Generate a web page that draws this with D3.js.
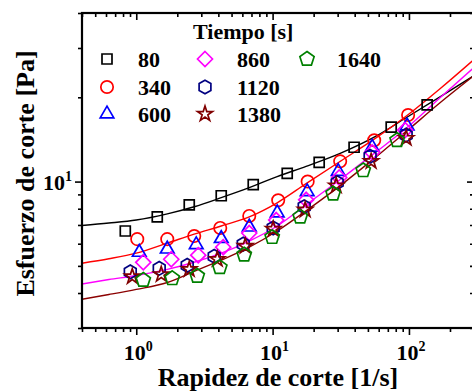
<!DOCTYPE html>
<html>
<head>
<meta charset="utf-8">
<script src="https://cdn.jsdelivr.net/npm/d3@7"></script>
<style>
  html, body { margin: 0; padding: 0; background: #fff; }
  svg { display: block; font-family: "Liberation Serif", "Times New Roman", serif; font-weight: bold; }
</style>
</head>
<body>
<svg id="chart" width="472" height="392"></svg>
<script>
// Shear stress vs. shear rate at several resting times
const seriesLabels = ["80", "340", "600", "860", "1120", "1380", "1640"];

const rate80 = [0.831, 1.426, 2.447, 4.20, 7.21, 12.8, 21.96, 39.6, 74.1, 136];
const stress80 = [6.66, 7.48, 8.26, 8.90, 9.75, 10.69, 11.71, 13.26, 15.65, 18.79];

const rate340 = [1.017, 1.688, 2.662, 4.13, 6.74, 10.99, 18.08, 31.3, 55.6, 98.6];
const stress340 = [6.23, 6.23, 6.39, 6.83, 7.54, 8.58, 10.0, 11.81, 14.05, 17.29];

const rate600 = [1.052, 1.688, 2.754, 4.20, 6.74, 10.81, 17.93, 30.27, 53.74, 97.0];
const stress600 = [5.59, 5.74, 5.95, 6.26, 6.88, 7.73, 9.20, 10.87, 13.26, 15.79];

const rate860 = [1.126, 1.806, 2.848, 4.34, 6.74, 10.63, 17.63, 30.8, 53.74, 93.8];
const stress860 = [5.15, 5.28, 5.46, 5.83, 6.55, 7.29, 8.61, 10.34, 12.72, 15.27];

const rate1120 = [0.904, 1.474, 2.365, 3.73, 6.09, 10.10, 17.05, 29.76, 51.9, 95.4];
const stress1120 = [4.76, 4.90, 5.02, 5.41, 5.98, 6.83, 8.13, 9.92, 12.31, 14.65];

const rate1380 = [0.935, 1.525, 2.447, 3.93, 6.30, 10.10, 17.34, 29.3, 52.8, 95.4];
const stress1380 = [4.58, 4.66, 4.86, 5.28, 5.88, 6.77, 7.93, 9.67, 11.81, 14.29];

const rate1640 = [1.126, 1.836, 2.80, 4.10, 6.19, 9.93, 15.94, 27.8, 46.2, 81.9];
const stress1640 = [4.45, 4.51, 4.60, 4.94, 5.48, 6.33, 7.48, 9.05, 10.96, 14.05];

// Fitted flow curves
const fitRate = [0.4, 0.63, 1.0, 1.69, 2.66, 4.2, 6.74, 10.8, 17.6, 31.3, 55.6, 100, 169, 300];
const fit80 = [6.97, 7.11, 7.29, 7.67, 8.13, 8.76, 9.51, 10.42, 11.33, 12.61, 14.41, 17.15, 20.08, 23.9];
const fit340 = [5.11, 5.30, 5.55, 6.03, 6.49, 6.94, 7.48, 8.40, 9.83, 11.81, 14.17, 17.43, 21.46, 27.3];
const fitMid = [4.31, 4.47, 4.62, 4.86, 5.15, 5.55, 6.13, 6.94, 8.26, 10.17, 12.61, 15.79, 19.92, 25.55];
const fitLate = [3.80, 3.95, 4.12, 4.36, 4.78, 5.24, 5.83, 6.66, 7.86, 9.67, 12.10, 15.39, 19.11, 23.9];

// Axis ticks
const xMajorTicks = [1, 10, 100];
const xMinorTicks = [0.4, 0.5, 0.6, 0.7, 0.8, 0.9, 2, 3, 4, 5, 6, 7, 8, 9, 20, 30, 40, 50, 60, 70, 80, 90, 200, 300];
const xTickExponents = ["0", "1", "2"];
const yMajorTicks = [10];
const yMinorTicks = [3, 4, 5, 6, 7, 8, 9, 20, 30, 40];
const yTickExponents = ["1"];

const xTitle = "Rapidez de corte [1/s]";
const yTitle = "Esfuerzo de corte [Pa]";
const legendTitle = "Tiempo [s]";

// ---------------------------------------------------------------
const frame = { left: 82, right: 474, top: 13, bottom: 328 };
const x = d3.scaleLog().domain([0.4, 300]).range([frame.left, frame.right]);
const y = d3.scaleLog().domain([3, 40]).range([frame.bottom, frame.top]);

const svg = d3.select("#chart");

// polygon outline centred on the origin, first vertex pointing up
function polygonPath(n, r) {
  const pts = d3.range(n).map(i => {
    const a = -Math.PI / 2 + i * 2 * Math.PI / n;
    return [r * Math.cos(a), r * Math.sin(a)];
  });
  return "M" + pts.map(p => p[0].toFixed(2) + "," + p[1].toFixed(2)).join("L") + "Z";
}

const markerShapes = {
  square: d3.symbol(d3.symbolSquare, 100)(),
  circle: d3.symbol(d3.symbolCircle, 120)(),
  triangle: d3.symbol(d3.symbolTriangle, 80)(),
  diamond: polygonPath(4, 7.5),
  hexagon: polygonPath(6, 6.8),
  star: d3.symbol(d3.symbolStar, 70)(),
  pentagon: polygonPath(5, 7.5)
};

const series = [
  { label: seriesLabels[0], rate: rate80, stress: stress80, shape: "square", color: "#000000" },
  { label: seriesLabels[1], rate: rate340, stress: stress340, shape: "circle", color: "#ff0000" },
  { label: seriesLabels[2], rate: rate600, stress: stress600, shape: "triangle", color: "#0000ff" },
  { label: seriesLabels[3], rate: rate860, stress: stress860, shape: "diamond", color: "#ff00ff" },
  { label: seriesLabels[4], rate: rate1120, stress: stress1120, shape: "hexagon", color: "#000080" },
  { label: seriesLabels[5], rate: rate1380, stress: stress1380, shape: "star", color: "#800000" },
  { label: seriesLabels[6], rate: rate1640, stress: stress1640, shape: "pentagon", color: "#008000" }
];

const fits = [
  { values: fit80, color: "#000000" },
  { values: fit340, color: "#ff0000" },
  { values: fitMid, color: "#ff00ff" },
  { values: fitLate, color: "#8b0000" }
];

svg.append("defs").append("clipPath").attr("id", "plot-clip")
  .append("rect")
  .attr("x", frame.left).attr("y", frame.top)
  .attr("width", frame.right - frame.left).attr("height", frame.bottom - frame.top);

// fitted curves
const line = d3.line()
  .x((d, i) => x(fitRate[i]))
  .y(d => y(d))
  .curve(d3.curveMonotoneX);

svg.append("g").attr("clip-path", "url(#plot-clip)")
  .selectAll("path.fit")
  .data(fits)
  .join("path")
  .attr("class", "fit")
  .attr("d", d => line(d.values))
  .attr("fill", "none")
  .attr("stroke", d => d.color)
  .attr("stroke-width", 1.4);

// data markers
const markerLayer = svg.append("g");
series.forEach(s => {
  markerLayer.append("g")
    .selectAll("path")
    .data(s.rate.map((r, i) => [r, s.stress[i]]))
    .join("path")
    .attr("d", markerShapes[s.shape])
    .attr("transform", d => `translate(${x(d[0])},${y(d[1])})`)
    .attr("fill", "none")
    .attr("stroke", s.color)
    .attr("stroke-width", 1.7);
});

// axes: bottom/left ticks outward, top/right ticks inward
function styleAxis(g) {
  g.selectAll(".tick line").attr("stroke", "#000").attr("stroke-width", 1.6);
  g.selectAll(".tick text").remove();
  g.select(".domain").remove();
}
const majorLen = 7, minorLen = 4;

svg.append("g").attr("transform", `translate(0,${frame.bottom})`)
  .call(d3.axisBottom(x).tickValues(xMajorTicks).tickSize(majorLen)).call(styleAxis);
svg.append("g").attr("transform", `translate(0,${frame.bottom})`)
  .call(d3.axisBottom(x).tickValues(xMinorTicks).tickSize(minorLen)).call(styleAxis);
svg.append("g").attr("transform", `translate(0,${frame.top})`)
  .call(d3.axisTop(x).tickValues(xMajorTicks).tickSize(-majorLen)).call(styleAxis);
svg.append("g").attr("transform", `translate(0,${frame.top})`)
  .call(d3.axisTop(x).tickValues(xMinorTicks).tickSize(-minorLen)).call(styleAxis);

svg.append("g").attr("transform", `translate(${frame.left},0)`)
  .call(d3.axisLeft(y).tickValues(yMajorTicks).tickSize(majorLen)).call(styleAxis);
svg.append("g").attr("transform", `translate(${frame.left},0)`)
  .call(d3.axisLeft(y).tickValues(yMinorTicks).tickSize(minorLen)).call(styleAxis);
svg.append("g").attr("transform", `translate(${frame.right},0)`)
  .call(d3.axisRight(y).tickValues(yMajorTicks).tickSize(-majorLen)).call(styleAxis);
svg.append("g").attr("transform", `translate(${frame.right},0)`)
  .call(d3.axisRight(y).tickValues(yMinorTicks).tickSize(-minorLen)).call(styleAxis);

// frame
svg.append("rect")
  .attr("x", frame.left).attr("y", frame.top)
  .attr("width", frame.right - frame.left).attr("height", frame.bottom - frame.top)
  .attr("fill", "none").attr("stroke", "#000").attr("stroke-width", 2.2);

// power-of-ten tick labels
function powerLabel(sel, exp) {
  sel.append("tspan").text("10");
  sel.append("tspan").attr("dy", -9).attr("font-size", 14).text(exp);
}
xMajorTicks.forEach((v, i) => {
  svg.append("text")
    .attr("x", x(v) + 2).attr("y", frame.bottom + 32)
    .attr("text-anchor", "middle").attr("font-size", 22)
    .call(powerLabel, xTickExponents[i]);
});
yMajorTicks.forEach((v, i) => {
  svg.append("text")
    .attr("x", frame.left - 10).attr("y", y(v) + 8)
    .attr("text-anchor", "end").attr("font-size", 22)
    .call(powerLabel, yTickExponents[i]);
});

// axis titles
svg.append("text")
  .attr("x", (frame.left + frame.right) / 2).attr("y", 386)
  .attr("text-anchor", "middle").attr("font-size", 26)
  .text(xTitle);
svg.append("text")
  .attr("transform", `translate(34,${(frame.top + frame.bottom) / 2 + 3}) rotate(-90)`)
  .attr("text-anchor", "middle").attr("font-size", 26)
  .text(yTitle);

// legend: three columns, three rows
const legend = svg.append("g");
legend.append("text")
  .attr("x", 193).attr("y", 39).attr("font-size", 22)
  .text(legendTitle);
const colSymbolX = [107, 205, 307];
const colTextX = [138, 237, 337];
const rowY = [59, 87, 114];
series.forEach((s, i) => {
  const col = Math.floor(i / 3), row = i % 3;
  legend.append("path")
    .attr("d", markerShapes[s.shape])
    .attr("transform", `translate(${colSymbolX[col]},${rowY[row]})`)
    .attr("fill", "none").attr("stroke", s.color).attr("stroke-width", 1.7);
  legend.append("text")
    .attr("x", colTextX[col]).attr("y", rowY[row] + 8)
    .attr("font-size", 22)
    .text(s.label);
});
</script>
</body>
</html>
